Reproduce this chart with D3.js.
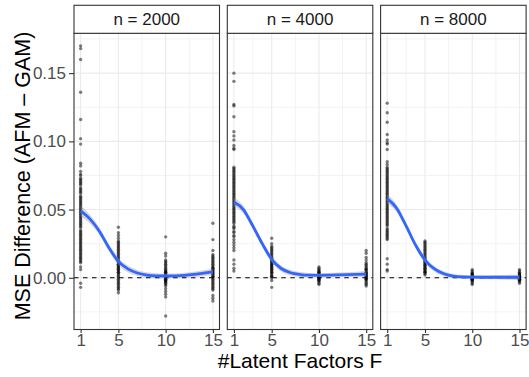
<!DOCTYPE html>
<html>
<head>
<meta charset="utf-8">
<script src="https://cdn.jsdelivr.net/npm/d3@7"></script>
<style>
  body { margin: 0; background: #fff; }
  #chart { width: 529px; height: 377px; }
  text { font-family: "Liberation Sans", Arial, sans-serif; }
</style>
</head>
<body>
<div id="chart"></div>
<script>
// facets and axis breaks
const facets = ["n = 2000", "n = 4000", "n = 8000"];
const factorTicks = [1, 5, 10, 15];
const factorMinor = [3, 7.5, 12.5];
const mseTicks = [0, 0.05, 0.10, 0.15];
const mseMinor = [-0.025, 0.025, 0.075, 0.125, 0.175];

// MSE differences, one array per sample size and number of factors
const n2000_F1 = [0.170, 0.168, 0.160, 0.136, 0.116, 0.102, 0.098, 0.084, 0.082, 0.078, 0.076, 0.075, 0.073, 0.072, 0.071, 0.070, 0.069, 0.068, 0.066, 0.065, 0.064, 0.063, 0.062, 0.060, 0.059, 0.058, 0.057, 0.056, 0.055, 0.054, 0.053, 0.052, 0.051, 0.050, 0.049, 0.048, 0.047, 0.046, 0.045, 0.044, 0.043, 0.042, 0.041, 0.040, 0.039, 0.038, 0.037, 0.035, 0.034, 0.033, 0.032, 0.031, 0.030, 0.029, 0.028, 0.027, 0.026, 0.025, 0.024, 0.023, 0.022, 0.021, 0.020, 0.019, 0.018, 0.017, 0.016, 0.015, 0.014, 0.013, 0.012, 0.011, 0.008, 0.006, -0.004, -0.007];
const n2000_F5 = [0.037, 0.033, 0.031, 0.029, 0.027, 0.026, 0.025, 0.024, 0.023, 0.022, 0.021, 0.020, 0.019, 0.018, 0.017, 0.016, 0.015, 0.014, 0.013, 0.012, 0.012, 0.011, 0.010, 0.010, 0.009, 0.008, 0.008, 0.007, 0.006, 0.006, 0.005, 0.004, 0.004, 0.003, 0.002, 0.001, 0.000, -0.001, -0.002, -0.003, -0.004, -0.005, -0.006, -0.007, -0.008, -0.009, -0.011];
const n2000_F10 = [0.030, 0.018, 0.016, 0.013, 0.012, 0.011, 0.010, 0.009, 0.008, 0.007, 0.006, 0.005, 0.005, 0.004, 0.004, 0.003, 0.003, 0.002, 0.002, 0.001, 0.001, 0.000, 0.000, -0.001, -0.001, -0.002, -0.002, -0.003, -0.003, -0.004, -0.005, -0.006, -0.008, -0.010, -0.012, -0.014, -0.028];
const n2000_F15 = [0.040, 0.028, 0.020, 0.017, 0.016, 0.015, 0.014, 0.013, 0.012, 0.011, 0.010, 0.009, 0.008, 0.007, 0.007, 0.006, 0.005, 0.005, 0.004, 0.003, 0.003, 0.002, 0.001, 0.001, 0.000, -0.001, -0.002, -0.003, -0.004, -0.005, -0.006, -0.007, -0.008, -0.009, -0.013, -0.015, -0.017];

const n4000_F1 = [0.150, 0.144, 0.127, 0.126, 0.118, 0.107, 0.104, 0.101, 0.097, 0.095, 0.094, 0.081, 0.080, 0.079, 0.078, 0.077, 0.076, 0.075, 0.074, 0.073, 0.072, 0.071, 0.070, 0.069, 0.068, 0.067, 0.066, 0.065, 0.064, 0.063, 0.062, 0.061, 0.060, 0.059, 0.058, 0.057, 0.056, 0.055, 0.054, 0.053, 0.052, 0.051, 0.050, 0.049, 0.048, 0.047, 0.046, 0.045, 0.044, 0.043, 0.042, 0.041, 0.040, 0.038, 0.037, 0.036, 0.034, 0.033, 0.031, 0.030, 0.028, 0.026, 0.024, 0.022, 0.020, 0.013, 0.010, 0.007, 0.005];
const n4000_F5 = [0.029, 0.025, 0.023, 0.022, 0.021, 0.020, 0.019, 0.018, 0.017, 0.016, 0.015, 0.014, 0.014, 0.013, 0.012, 0.012, 0.011, 0.010, 0.010, 0.009, 0.008, 0.008, 0.007, 0.006, 0.006, 0.005, 0.004, 0.004, 0.003, 0.002, 0.001, 0.001, 0.000, -0.002, -0.007];
const n4000_F10 = [0.008, 0.007, 0.006, 0.005, 0.005, 0.004, 0.004, 0.003, 0.003, 0.002, 0.002, 0.002, 0.001, 0.001, 0.001, 0.000, 0.000, 0.000, -0.001, -0.001, -0.002, -0.002, -0.003, -0.004, -0.005];
const n4000_F15 = [0.020, 0.018, 0.015, 0.013, 0.011, 0.010, 0.009, 0.008, 0.007, 0.006, 0.006, 0.005, 0.004, 0.004, 0.003, 0.003, 0.002, 0.002, 0.001, 0.001, 0.000, 0.000, -0.001, -0.001, -0.002, -0.003, -0.004, -0.005, -0.006];

const n8000_F1 = [0.128, 0.121, 0.114, 0.105, 0.101, 0.099, 0.098, 0.094, 0.085, 0.083, 0.081, 0.080, 0.079, 0.078, 0.077, 0.076, 0.075, 0.074, 0.073, 0.072, 0.071, 0.070, 0.069, 0.068, 0.067, 0.066, 0.065, 0.064, 0.063, 0.062, 0.061, 0.060, 0.059, 0.058, 0.057, 0.056, 0.055, 0.054, 0.053, 0.052, 0.051, 0.050, 0.049, 0.048, 0.047, 0.046, 0.045, 0.044, 0.043, 0.042, 0.041, 0.040, 0.039, 0.038, 0.036, 0.035, 0.034, 0.033, 0.032, 0.031, 0.030, 0.029, 0.028, 0.014, 0.010, 0.006, 0.005];
const n8000_F5 = [0.027, 0.026, 0.025, 0.024, 0.023, 0.022, 0.021, 0.020, 0.019, 0.018, 0.017, 0.016, 0.015, 0.014, 0.013, 0.013, 0.012, 0.011, 0.011, 0.010, 0.009, 0.009, 0.008, 0.007, 0.007, 0.006, 0.005, 0.005, 0.004, 0.004, 0.003, 0.002];
const n8000_F10 = [0.006, 0.005, 0.004, 0.003, 0.003, 0.002, 0.002, 0.001, 0.001, 0.001, 0.000, 0.000, 0.000, 0.000, -0.001, -0.001, -0.001, -0.002, -0.002, -0.003, -0.004, -0.005];
const n8000_F15 = [0.006, 0.005, 0.004, 0.003, 0.003, 0.002, 0.002, 0.001, 0.001, 0.001, 0.000, 0.000, 0.000, 0.000, -0.001, -0.001, -0.001, -0.002, -0.002, -0.003, -0.004];

// smoother (fit and half width of the band)
const smoothF = [1, 2, 3, 4, 5, 6, 7, 8, 9, 10, 11, 12, 13, 14, 15];
const fit2000 = [0.049, 0.043, 0.034, 0.022, 0.012, 0.0065, 0.0035, 0.002, 0.0014, 0.0013, 0.0014, 0.0018, 0.0025, 0.0034, 0.0043];
const fit4000 = [0.0555, 0.050, 0.038, 0.025, 0.0135, 0.0068, 0.0037, 0.0024, 0.0019, 0.0018, 0.0019, 0.0021, 0.0023, 0.0025, 0.0027];
const fit8000 = [0.058, 0.051, 0.038, 0.024, 0.013, 0.0065, 0.003, 0.0012, 0.0006, 0.0005, 0.0004, 0.0004, 0.0004, 0.0004, 0.0004];
const band2000 = [0.004, 0.0032, 0.0027, 0.0026, 0.0026, 0.0025, 0.0022, 0.002, 0.0019, 0.0018, 0.0018, 0.0019, 0.002, 0.0022, 0.0026];
const band4000 = [0.0035, 0.0028, 0.0024, 0.0023, 0.0023, 0.0022, 0.002, 0.0018, 0.0017, 0.0016, 0.0016, 0.0017, 0.0018, 0.002, 0.0023];
const band8000 = [0.0035, 0.0028, 0.0024, 0.0023, 0.0022, 0.002, 0.0018, 0.0016, 0.0015, 0.0014, 0.0014, 0.0015, 0.0016, 0.0018, 0.002];

const panelPoints = [
    [[1, n2000_F1], [5, n2000_F5], [10, n2000_F10], [15, n2000_F15]],
    [[1, n4000_F1], [5, n4000_F5], [10, n4000_F10], [15, n4000_F15]],
    [[1, n8000_F1], [5, n8000_F5], [10, n8000_F10], [15, n8000_F15]],
];
const panelFit = [[fit2000, band2000], [fit4000, band4000], [fit8000, band8000]];

const width = 529;
const height = 377;
const margin = { top: 33.3, left: 74, bottom: 47.5 };
const stripTop = 5.3;
const panelW = 145.5;
const panelGap = 7.8;
const panelBottom = height - margin.bottom;

const x = d3.scaleLinear().domain([0.3, 15.7]).range([0, panelW]);
const y = d3.scaleLinear().domain([-0.0379, 0.1792]).range([panelBottom, margin.top]);

const svg = d3.select("#chart")
    .append("svg")
    .attr("width", width)
    .attr("height", height);

facets.forEach((label, i) => {
    const g = svg.append("g")
        .attr("transform", "translate(" + (margin.left + i * (panelW + panelGap)) + ",0)");

    // grid
    g.selectAll("line.ymin").data(mseMinor).enter().append("line")
        .attr("x1", 0).attr("x2", panelW)
        .attr("y1", (d) => y(d)).attr("y2", (d) => y(d))
        .attr("stroke", "#ebebeb").attr("stroke-width", 0.6);
    g.selectAll("line.xmin").data(factorMinor).enter().append("line")
        .attr("x1", (d) => x(d)).attr("x2", (d) => x(d))
        .attr("y1", margin.top).attr("y2", panelBottom)
        .attr("stroke", "#ebebeb").attr("stroke-width", 0.6);
    g.selectAll("line.ymaj").data(mseTicks).enter().append("line")
        .attr("x1", 0).attr("x2", panelW)
        .attr("y1", (d) => y(d)).attr("y2", (d) => y(d))
        .attr("stroke", "#ebebeb").attr("stroke-width", 1.1);
    g.selectAll("line.xmaj").data(factorTicks).enter().append("line")
        .attr("x1", (d) => x(d)).attr("x2", (d) => x(d))
        .attr("y1", margin.top).attr("y2", panelBottom)
        .attr("stroke", "#ebebeb").attr("stroke-width", 1.1);

    // points
    const pts = [];
    panelPoints[i].forEach(([f, vals]) => vals.forEach((v) => pts.push({ f: f, v: v })));
    g.selectAll("circle").data(pts).enter().append("circle")
        .attr("cx", (d) => x(d.f))
        .attr("cy", (d) => y(d.v))
        .attr("r", 1.7)
        .attr("fill", "#000")
        .attr("fill-opacity", 0.5);

    // smoother band and line
    const [fit, band] = panelFit[i];
    const rows = smoothF.map((f, k) => ({ f: f, m: fit[k], s: band[k] }));
    g.append("path")
        .datum(rows)
        .attr("d", d3.area()
            .x((d) => x(d.f))
            .y0((d) => y(d.m - d.s))
            .y1((d) => y(d.m + d.s))
            .curve(d3.curveMonotoneX))
        .attr("fill", "#999999")
        .attr("fill-opacity", 0.4);

    // reference line at zero
    g.append("line")
        .attr("x1", 0).attr("x2", panelW)
        .attr("y1", y(0)).attr("y2", y(0))
        .attr("stroke", "#000").attr("stroke-width", 1.1)
        .attr("stroke-dasharray", "4.5,4.5");

    g.append("path")
        .datum(rows)
        .attr("d", d3.line()
            .x((d) => x(d.f))
            .y((d) => y(d.m))
            .curve(d3.curveMonotoneX))
        .attr("fill", "none")
        .attr("stroke", "#3366ff")
        .attr("stroke-width", 2.8);

    // panel border
    g.append("rect")
        .attr("x", 0).attr("y", margin.top)
        .attr("width", panelW).attr("height", panelBottom - margin.top)
        .attr("fill", "none").attr("stroke", "#333333").attr("stroke-width", 1.1);

    // strip
    g.append("rect")
        .attr("x", 0).attr("y", stripTop)
        .attr("width", panelW).attr("height", margin.top - stripTop)
        .attr("fill", "#fff").attr("stroke", "#333333").attr("stroke-width", 1.1);
    g.append("text")
        .attr("x", panelW / 2)
        .attr("y", (stripTop + margin.top) / 2)
        .attr("dy", "0.36em")
        .attr("text-anchor", "middle")
        .attr("font-size", "17px")
        .attr("fill", "#1a1a1a")
        .text(label);

    // x axis
    const xAxis = g.append("g")
        .attr("transform", "translate(0," + panelBottom + ")")
        .call(d3.axisBottom(x).tickValues(factorTicks).tickSize(3.5).tickPadding(1));
    xAxis.select(".domain").remove();
    xAxis.selectAll(".tick line").attr("stroke", "#333333").attr("stroke-width", 1.1);
    xAxis.selectAll(".tick text")
        .attr("font-size", "17px")
        .attr("fill", "#4d4d4d")
        .attr("font-family", "Liberation Sans, Arial, sans-serif");

    if (i === 0) {
        const yAxis = g.append("g")
            .call(d3.axisLeft(y).tickValues(mseTicks).tickSize(5).tickPadding(3)
                .tickFormat(d3.format(".2f")));
        yAxis.select(".domain").remove();
        yAxis.selectAll(".tick line").attr("stroke", "#333333").attr("stroke-width", 1.1);
        yAxis.selectAll(".tick text")
            .attr("font-size", "17px")
            .attr("fill", "#4d4d4d")
            .attr("font-family", "Liberation Sans, Arial, sans-serif");
    }
});

// axis titles
const plotRight = margin.left + 3 * panelW + 2 * panelGap;
svg.append("text")
    .attr("x", (margin.left + plotRight) / 2)
    .attr("y", 368)
    .attr("text-anchor", "middle")
    .attr("font-size", "21px")
    .attr("fill", "#000")
    .text("#Latent Factors F");

svg.append("text")
    .attr("transform", "translate(30," + 176 + ") rotate(-90)")
    .attr("text-anchor", "middle")
    .attr("font-size", "21.5px")
    .attr("fill", "#000")
    .text("MSE Difference (AFM – GAM)");
</script>
</body>
</html>
